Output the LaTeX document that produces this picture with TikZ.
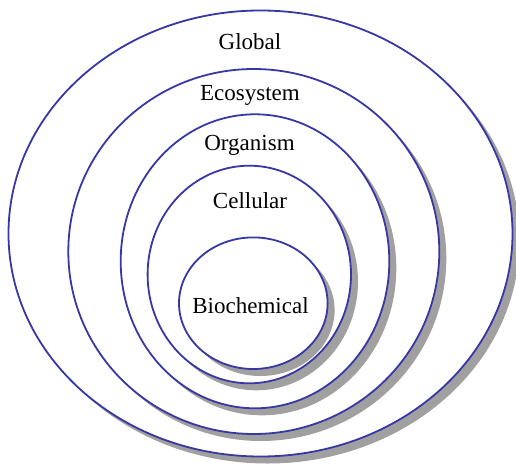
\documentclass[tikz,border=0pt]{standalone}
\usepackage{fontspec}
\setmainfont{Liberation Serif}
\usetikzlibrary{shapes.geometric,shadows}
\definecolor{ringblue}{RGB}{56,56,165}
\definecolor{shadegray}{RGB}{160,160,160}
\begin{document}
\begin{tikzpicture}[x=1pt,y=-1pt,
  ring/.style={ellipse,draw=ringblue,line width=1.8pt,fill=white,inner sep=0pt,
    drop shadow={shadow xshift=7pt,shadow yshift=-7pt,fill=shadegray,opacity=1}},
  lbl/.style={anchor=base,font=\fontsize{23}{26}\selectfont,text=black}]
\useasboundingbox (0,0) rectangle (516,463);
\node[ring,minimum width=504pt,minimum height=446pt] (global) at (260.5,233.5) {};
\node[ring,minimum width=371pt,minimum height=365pt] (eco) at (253.8,251.5) {};
\node[ring,minimum width=268.6pt,minimum height=294pt] (org) at (255,261.3) {};
\node[ring,minimum width=203.4pt,minimum height=217.6pt] (cell) at (249.3,274.5) {};
\node[ring,minimum width=148.6pt,minimum height=131.6pt] (bio) at (253.3,303.2) {};
\node[lbl] (tglobal) at (250,49.3) {Global};
\node[lbl] (teco) at (250,100) {Ecosystem};
\node[lbl] (torg) at (249.5,150) {Organism};
\node[lbl] (tcell) at (250,208) {Cellular};
\node[lbl] (tbio) at (250.5,313) {Biochemical};
\end{tikzpicture}
\end{document}
